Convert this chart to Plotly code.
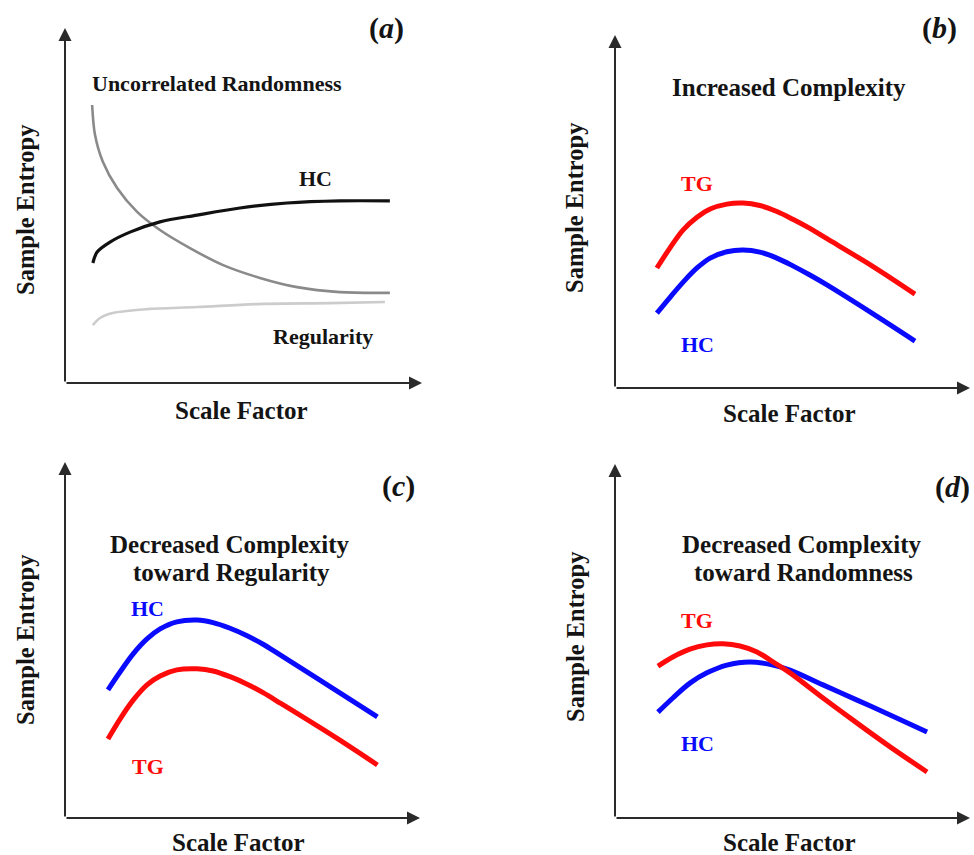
import plotly.graph_objects as go

# ---------------- data (arbitrary units: scale factor 0-10, sample entropy 0-10) -------------
# Panel (a)
a_rand_x = [0.76, 0.84, 1.06, 1.46, 2.02, 2.66, 3.50, 4.43, 5.46, 6.50, 7.70, 9.10]
a_rand_y = [7.83, 6.99, 6.23, 5.49, 4.82, 4.31, 3.80, 3.32, 2.96, 2.70, 2.56, 2.54]
a_hc_x = [0.78, 0.90, 1.26, 1.82, 2.66, 3.70, 4.90, 6.22, 7.70, 9.10]
a_hc_y = [3.38, 3.69, 3.97, 4.25, 4.54, 4.73, 4.93, 5.07, 5.13, 5.13]
a_reg_x = [0.78, 0.98, 1.34, 2.30, 3.70, 5.55, 7.42, 8.96]
a_reg_y = [1.63, 1.83, 1.97, 2.08, 2.14, 2.23, 2.25, 2.28]

# Panel (b)
b_x = [1.18, 1.55, 1.92, 2.31, 2.68, 3.15, 3.61, 4.08, 4.56, 5.01, 5.49, 5.97, 7.27, 8.45]
b_tg_y = [3.40, 3.97, 4.48, 4.84, 5.07, 5.21, 5.24, 5.17, 5.00, 4.78, 4.52, 4.23, 3.44, 2.66]
b_hc_y = [2.12, 2.57, 3.00, 3.40, 3.68, 3.86, 3.91, 3.85, 3.68, 3.46, 3.20, 2.92, 2.10, 1.33]

# Panel (c)
c_x = [1.21, 1.55, 1.92, 2.31, 2.68, 3.15, 3.72, 4.17, 4.65, 5.13, 5.58, 6.06, 7.61, 8.80]
c_hc_y = [3.60, 4.10, 4.61, 5.03, 5.31, 5.51, 5.56, 5.49, 5.33, 5.12, 4.88, 4.58, 3.60, 2.84]
c_tg_y = [2.22, 2.78, 3.31, 3.74, 3.99, 4.16, 4.19, 4.13, 3.97, 3.76, 3.52, 3.23, 2.27, 1.49]

# Panel (d)
d_tg_x = [1.21, 1.63, 2.11, 2.59, 3.04, 3.52, 4.00, 4.45, 4.93, 5.86, 6.82, 7.75, 8.79]
d_tg_y = [4.29, 4.55, 4.77, 4.89, 4.92, 4.86, 4.69, 4.41, 4.10, 3.39, 2.68, 2.01, 1.30]
d_hc_x = [1.21, 1.63, 2.11, 2.59, 3.15, 3.80, 4.45, 4.93, 5.86, 6.82, 7.75, 8.79]
d_hc_y = [2.99, 3.39, 3.81, 4.10, 4.32, 4.41, 4.32, 4.18, 3.76, 3.33, 2.91, 2.43]

panel_labels = ["(<i>a</i>)", "(<i>b</i>)", "(<i>c</i>)", "(<i>d</i>)"]
x_title = "Scale Factor"
y_title = "Sample Entropy"

# ---------------- figure ----------------
W, H = 974, 855
FONT = "Liberation Serif"
RED = "#ff0a0a"
BLUE = "#0a0aff"
INK = "#141414"

fig = go.Figure()

def px_dom(x0, x1, y0, y1):
    return [x0 / W, x1 / W], [1 - y1 / H, 1 - y0 / H]

# panel pixel boxes (axis origin to arrow tips)
boxes = {
    1: px_dom(65, 422, 28, 383),
    2: px_dom(615, 970, 35, 388),
    3: px_dom(65, 420, 462, 818),
    4: px_dom(615, 970, 464, 818),
}

layout = dict(
    width=W, height=H, margin=dict(l=0, r=0, t=0, b=0),
    paper_bgcolor="white", plot_bgcolor="white", showlegend=False,
    font=dict(family=FONT, color=INK),
)
for i, (xd, yd) in boxes.items():
    sfx = "" if i == 1 else str(i)
    layout["xaxis" + sfx] = dict(domain=xd, range=[0, 10], visible=False,
                                 anchor="y" + sfx, fixedrange=True)
    layout["yaxis" + sfx] = dict(domain=yd, range=[0, 10], visible=False,
                                 anchor="x" + sfx, fixedrange=True)
fig.update_layout(**layout)

def line(x, y, color, width, ax, smoothing=1.0):
    sfx = "" if ax == 1 else str(ax)
    fig.add_trace(go.Scatter(x=x, y=y, mode="lines",
                             line=dict(color=color, width=width, shape="spline",
                                       smoothing=smoothing),
                             xaxis="x" + sfx, yaxis="y" + sfx, hoverinfo="skip"))

# panel a
line(a_rand_x, a_rand_y, "#8a8a8a", 2.6, 1, 0.9)
line(a_reg_x, a_reg_y, "#cccccc", 2.6, 1, 0.9)
line(a_hc_x, a_hc_y, "#111111", 3.2, 1, 0.9)
# panel b
line(b_x, b_tg_y, RED, 5, 2)
line(b_x, b_hc_y, BLUE, 5, 2)
# panel c
line(c_x, c_hc_y, BLUE, 5, 3)
line(c_x, c_tg_y, RED, 5, 3)
# panel d
line(d_hc_x, d_hc_y, BLUE, 5, 4)
line(d_tg_x, d_tg_y, RED, 5, 4)

annotations = []

def txt(xpx, ypx, text, size=22, color=INK, angle=0):
    annotations.append(dict(xref="paper", yref="paper", x=xpx / W, y=1 - ypx / H,
                            text="<b>" + text + "</b>",
                            showarrow=False, textangle=angle,
                            font=dict(family=FONT, size=size, color=color),
                            xanchor="center", yanchor="middle"))

def arrow(ax, x, y, x0, y0):
    sfx = "" if ax == 1 else str(ax)
    annotations.append(dict(xref="x" + sfx, yref="y" + sfx, axref="x" + sfx, ayref="y" + sfx,
                            x=x, y=y, ax=x0, ay=y0, text="", showarrow=True,
                            arrowhead=2, arrowsize=1.3, arrowwidth=2, arrowcolor="#2a2a2a",
                            standoff=0, startstandoff=0))

for ax in (1, 2, 3, 4):
    arrow(ax, 10, 0, 0, 0)
    arrow(ax, 0, 10, 0, 0)

XT = 25
YT = 24.5
# panel a
txt(386, 28, panel_labels[0], 30)
txt(217, 84, "Uncorrelated Randomness", 22)
txt(315, 178, "HC", 22)
txt(323, 336, "Regularity", 22)
txt(25, 210, y_title, YT, angle=-90)
txt(241, 410, x_title, XT)
# panel b
txt(939, 28, panel_labels[1], 30)
txt(789, 88, "Increased Complexity", 25)
txt(697, 184, "TG", 22, RED)
txt(697, 344, "HC", 22, BLUE)
txt(575, 208, y_title, YT, angle=-90)
txt(789, 413, x_title, XT)
# panel c
txt(398, 486, panel_labels[2], 30)
txt(230, 544, "Decreased Complexity", 25)
txt(231, 572, "toward Regularity", 25)
txt(147, 608, "HC", 22, BLUE)
txt(148, 766, "TG", 22, RED)
txt(25, 640, y_title, YT, angle=-90)
txt(238, 842, x_title, XT)
# panel d
txt(952, 487, panel_labels[3], 30)
txt(802, 544, "Decreased Complexity", 25)
txt(803, 572, "toward Randomness", 25)
txt(697, 620, "TG", 22, RED)
txt(697, 743, "HC", 22, BLUE)
txt(575, 637, y_title, YT, angle=-90)
txt(789, 842, x_title, XT)

fig.update_layout(annotations=annotations)
fig.write_html("out.html", config={"displayModeBar": False},
               post_script="document.body.style.margin='0px';")
